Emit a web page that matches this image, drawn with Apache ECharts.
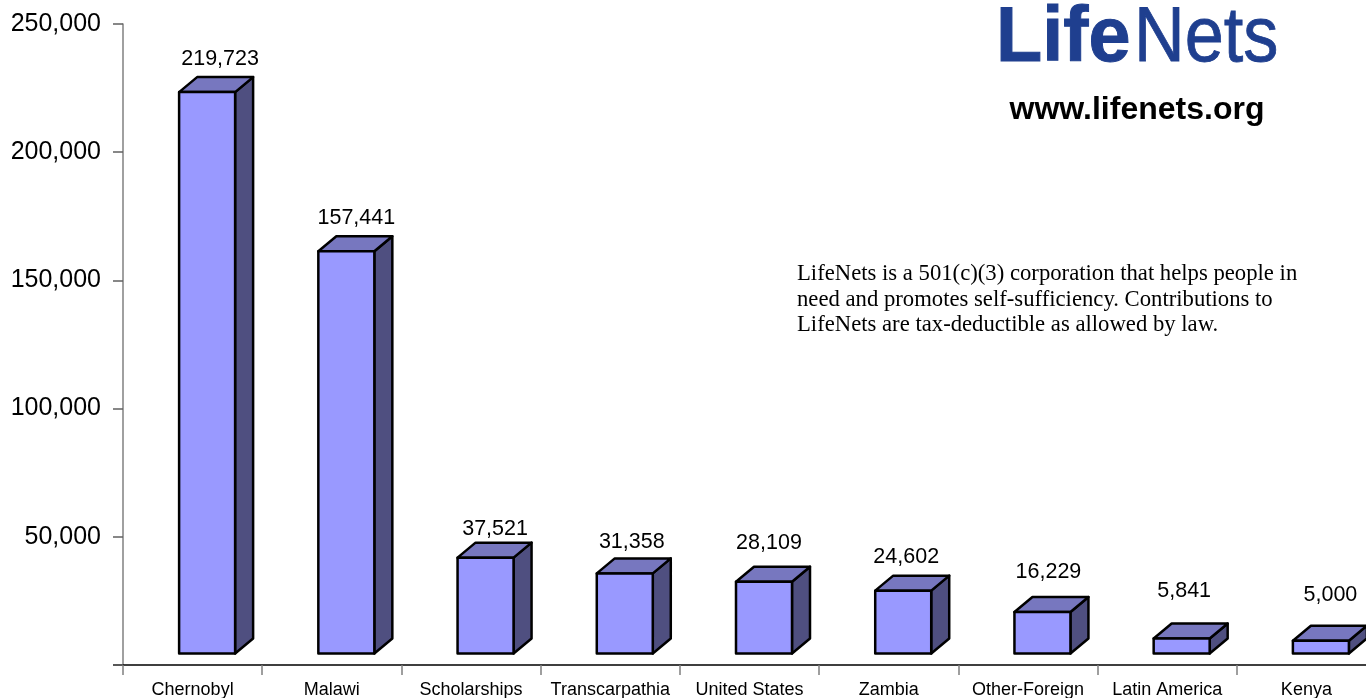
<!DOCTYPE html>
<html><head><meta charset="utf-8">
<style>html,body{margin:0;padding:0;background:#fff;overflow:hidden}#c{width:1366px;height:698px}</style>
<script src="https://cdn.jsdelivr.net/npm/echarts@6/dist/echarts.min.js"></script>
</head><body><div id="c"></div>
<script>
const categories = ['Chernobyl','Malawi','Scholarships','Transcarpathia','United States','Zambia','Other-Foreign','Latin America','Kenya'];
const values = [219723,157441,37521,31358,28109,24602,16229,5841,5000];
const yTicks = [0,50000,100000,150000,200000,250000];
// hand placement of each value label relative to its bar: [dx, dy above front-top]
const labelNudge = [[13,33.5],[10,33.5],[9.5,28.5],[7,31.5],[5,38.5],[3,33.5],[6,39.5],[2.5,47.5],[9.5,45.5]];

const fmt = v => String(v).replace(/\B(?=(\d{3})+$)/g, ',');
const BAR_W = 56, SHIFT = 14.5, DX = 18, DY = 15;
const FRONT = '#9999FF', TOP = '#7777BF', SIDE = '#4F4F80';
const chart = echarts.init(document.getElementById('c'), null, {renderer:'canvas'});

function renderBar(params, api) {
  const i = api.value(0), v = api.value(1);
  const t = api.coord([i, v]), b = api.coord([i, 0]);
  const l = t[0] + SHIFT - BAR_W/2, r = l + BAR_W, yt = t[1], yb = b[1];
  const line = {stroke:'#000', lineWidth:2.5, lineJoin:'round'};
  const n = labelNudge[i];
  return {type:'group', children:[
    {type:'polygon', shape:{points:[[r,yt],[r+DX,yt-DY],[r+DX,yb-DY],[r,yb]]}, style:Object.assign({fill:SIDE},line)},
    {type:'polygon', shape:{points:[[l,yt],[l+DX,yt-DY],[r+DX,yt-DY],[r,yt]]}, style:Object.assign({fill:TOP},line)},
    {type:'rect', shape:{x:l,y:yt,width:BAR_W,height:yb-yt}, style:Object.assign({fill:FRONT},line)},
    {type:'text', style:{text:fmt(v), x:l+BAR_W/2+n[0], y:yt-n[1], align:'center', verticalAlign:'middle',
      font:'21.5px "Liberation Sans"', fill:'#000'}}
  ]};
}

chart.setOption({
  animation:false,
  backgroundColor:'#fff',
  grid:[
    {left:123, top:24, width:1253, height:641, outerBoundsMode:'none'},
    {left:123, top:14.75, width:1253, height:638.75, outerBoundsMode:'none'}
  ],
  xAxis:[
    {type:'category', gridIndex:0, data:categories, boundaryGap:true,
     axisLine:{lineStyle:{color:'#000',width:1.5}},
     axisTick:{show:true, length:10, alignWithLabel:false, lineStyle:{color:'#808080',width:1.5}},
     axisLabel:{interval:0, margin:16, color:'#000', fontSize:18, fontFamily:'Liberation Sans', hideOverlap:false},
     splitLine:{show:false}},
    {type:'category', gridIndex:1, data:categories, show:false}
  ],
  yAxis:[
    {type:'value', gridIndex:0, min:0, max:250000, interval:50000,
     axisLine:{show:true, lineStyle:{color:'#808080',width:1.5}},
     axisTick:{show:true, length:10, lineStyle:{color:'#606060',width:1.5}},
     axisLabel:{margin:22, color:'#000', fontSize:25, fontFamily:'Liberation Sans',
       formatter:v => yTicks.includes(v) && v !== 0 ? fmt(v) : ''},
     splitLine:{show:false}},
    {type:'value', gridIndex:1, min:0, max:250000, show:false, splitLine:{show:false}}
  ],
  series:[{type:'custom', xAxisIndex:1, yAxisIndex:1, renderItem:renderBar, clip:false,
    data:values.map((v,i)=>[i,v]), encode:{x:0,y:1}}],
  graphic:[
    {type:'line', shape:{x1:113,y1:665,x2:123,y2:665}, style:{stroke:'#000',lineWidth:1.5}},
    {type:'text', x:996, y:0, scaleX:0.97, style:{text:'Life', font:'bold 78px "Liberation Sans"', fill:'#1F3F8F', stroke:'#1F3F8F', lineWidth:1}},
    {type:'text', x:1134, y:0, scaleX:0.9, style:{text:'Nets', font:'78px "Liberation Sans"', fill:'#1F3F8F', stroke:'#1F3F8F', lineWidth:0.8}},
    {type:'text', x:1137, y:110, style:{text:'www.lifenets.org', font:'bold 32px "Liberation Sans"', fill:'#000', align:'center', verticalAlign:'middle'}},
    {type:'text', x:797, y:261, style:{text:'LifeNets is a 501(c)(3) corporation that helps people in\nneed and promotes self-sufficiency. Contributions to\nLifeNets are tax-deductible as allowed by law.',
      font:'22.7px "Liberation Serif"', lineHeight:25.7, fill:'#000'}}
  ]
});
</script></body></html>
